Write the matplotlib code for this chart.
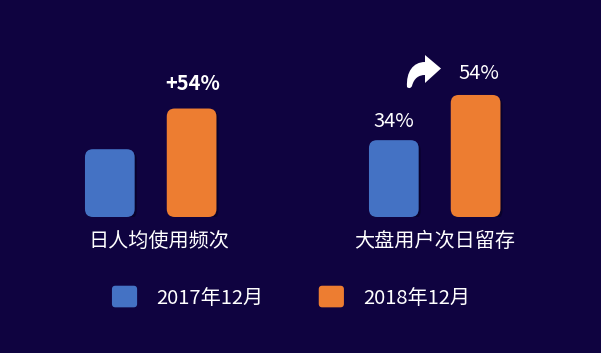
import matplotlib
matplotlib.use('Agg')
import matplotlib.pyplot as plt
from matplotlib.patches import FancyBboxPatch, PathPatch
from matplotlib.path import Path
from matplotlib.legend_handler import HandlerPatch
import numpy as np

plt.rcParams['font.family'] = ['Noto Sans CJK SC', 'DejaVu Sans']

# data
categories = ['日人均使用频次', '大盘用户次日留存']
series_names = ['2017年12月', '2018年12月']
vals_2017 = [30, 34]
vals_2018 = [48, 54]
bar_labels_2017 = ['', '34%']
bar_labels_2018 = ['+54%', '54%']
colors = ['#4472c4', '#ed7d31']
bg = '#0f0340'

W, H = 601, 353
fig = plt.figure(figsize=(W / 100, H / 100), dpi=100, facecolor=bg)

# axes: bottom of bars at y=217px, 2.26 px per unit, group spacing 284px
px_x = 284.0
px_y = 2.26
ymax = 60
bottom_px = 217
ax = fig.add_axes([0, (H - bottom_px) / H, 1, ymax * px_y / H])
ax.set_facecolor('none')
ax.set_xlim(-151 / px_x, (W - 151) / px_x)
ax.set_ylim(0, ymax)
ax.axis('off')

x = np.arange(len(categories))
offsets = [-0.145, 0.143]
width = 0.175
rad_px = 8

for si, vals in enumerate([vals_2017, vals_2018]):
    bars = ax.bar(x + offsets[si], vals, width, color='none')
    for b in bars:
        bx, by = b.get_x(), b.get_y()
        bw, bh = b.get_width(), b.get_height()
        r = rad_px / px_x
        # soft shadow
        sh = FancyBboxPatch((bx + 2 / px_x, by - 2 / px_y), bw, bh,
                            boxstyle=f'round,pad=0,rounding_size={r}',
                            mutation_aspect=px_x / px_y,
                            fc='#05001a', ec='none', alpha=0.5, zorder=1)
        ax.add_patch(sh)
        p = FancyBboxPatch((bx, by), bw, bh,
                           boxstyle=f'round,pad=0,rounding_size={r}',
                           mutation_aspect=px_x / px_y,
                           fc=colors[si], ec='none', zorder=2)
        ax.add_patch(p)

# value labels
for i in range(len(categories)):
    if bar_labels_2017[i]:
        ax.text(x[i] + offsets[0], vals_2017[i] + 3.5, bar_labels_2017[i],
                ha='center', va='bottom', color='white', fontsize=14.5, clip_on=False)
    lbl = bar_labels_2018[i]
    bold = lbl.startswith('+')
    ax.text(x[i] + offsets[1] + (0.01 if i == 1 else 0.005),
            vals_2018[i] + (6.5 if bold else 5), lbl,
            ha='center', va='bottom', color='white', fontsize=14.5,
            fontweight='bold' if bold else 'normal', clip_on=False)

# category labels
label_shift = [0.028, 0.0]
for i, c in enumerate(categories):
    ax.text(x[i] + label_shift[i], -11, c, ha='center', va='center', color='white',
            fontsize=14.5, clip_on=False)

# curved "share" arrow icon, drawn on an overlay in pixel units
ov = fig.add_axes([0, 0, 1, 1])
ov.set_xlim(0, W)
ov.set_ylim(H, 0)
ov.axis('off')
ov.patch.set_alpha(0)
verts = [
    (441, 68.5),                              # tip
    (425, 55),                                # head top
    (425, 62),                                # band top at head
    (413, 62), (406, 72), (407, 87),          # upper/outer edge down to tail
    (409, 89), (411, 88), (412, 86),          # rounded tail end
    (414, 78), (419, 75), (425, 75),          # inner edge back to head
    (425, 83),                                # head bottom
    (441, 68.5),
]
codes = [Path.MOVETO, Path.LINETO, Path.LINETO,
         Path.CURVE4, Path.CURVE4, Path.CURVE4,
         Path.CURVE4, Path.CURVE4, Path.CURVE4,
         Path.CURVE4, Path.CURVE4, Path.CURVE4,
         Path.LINETO, Path.CLOSEPOLY]
ov.add_patch(PathPatch(Path(verts, codes), fc='white', ec='none'))


# legend with rounded squares
class RoundHandler(HandlerPatch):
    def create_artists(self, legend, orig_handle, xdescent, ydescent,
                       width, height, fontsize, trans):
        p = FancyBboxPatch((-xdescent, -ydescent - 2), width, height + 4,
                           boxstyle='round,pad=0,rounding_size=2.5',
                           fc=orig_handle.get_facecolor(), ec='none',
                           transform=trans)
        return [p]


handles = [plt.Rectangle((0, 0), 1, 1, fc=c) for c in colors]
leg = fig.legend(handles, series_names, loc='center', bbox_to_anchor=(291 / W, 1 - 298 / H),
                 ncol=2, frameon=False, fontsize=14.5, labelcolor='white',
                 handlelength=1.25, handleheight=0.85, handletextpad=0.95,
                 columnspacing=2.75,
                 handler_map={plt.Rectangle: RoundHandler()})

fig.savefig('out.png', dpi=100, facecolor=bg)
